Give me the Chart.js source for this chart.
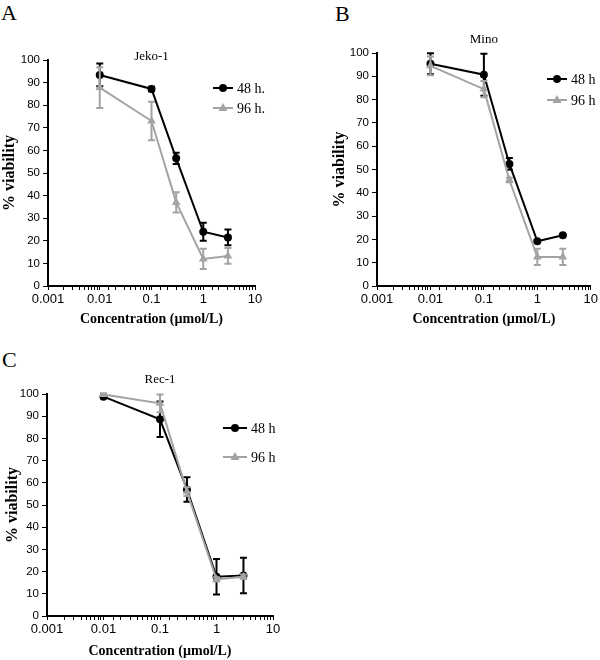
<!DOCTYPE html>
<html>
<head>
<meta charset="utf-8">
<script src="https://cdn.jsdelivr.net/npm/chart.js@4.4.0/dist/chart.umd.min.js"></script>
<style>
body{margin:0;background:#fff;width:600px;height:660px;position:relative;overflow:hidden}
canvas{position:absolute}
.lab{position:absolute;font-family:"Liberation Serif",serif;font-size:22px;line-height:24px;color:#000}
</style>
</head>
<body>
<div class="lab" style="left:1px;top:1px">A</div>
<div class="lab" style="left:335px;top:2px">B</div>
<div class="lab" style="left:2px;top:348px">C</div>
<canvas id="chartA" width="300" height="330" style="left:0;top:0"></canvas>
<canvas id="chartB" width="300" height="330" style="left:300px;top:0"></canvas>
<canvas id="chartC" width="300" height="340" style="left:0;top:320px"></canvas>
<script>
// concentrations (µmol/L)
var conc = [0.01, 0.1, 0.3, 1, 3];
var xTickLabels = [0.001, 0.01, 0.1, 1, 10];

// Jeko-1
var jeko48 = [93.4, 87.2, 56.5, 24, 21.5];
var jeko48Err = [5, 1, 2.5, 4, 3.5];
var jeko96 = [87.8, 73, 37, 12, 13.3];
var jeko96Err = [9, 8.5, 4.5, 4.5, 3.5];

// Mino
var mino48 = [95.4, 90.7, 52.4, 19.2, 21.8];
var mino48Err = [4.5, 9, 2.5, 0.5, 0.5];
var mino96 = [94.5, 84.5, 45.5, 12.5, 12.5];
var mino96Err = [4, 3.5, 1, 3.5, 3.5];

// Rec-1
var rec48 = [98.8, 88.6, 57, 17.7, 18.2];
var rec48Err = [0.5, 8, 5.5, 8, 8];
var rec96 = [99.8, 95.8, 56, 16.5, 17.7];
var rec96Err = [0.5, 4, 2, 1, 1];

var GREY = '#a3a3a3';
var SANS = '"Liberation Sans", Arial, sans-serif';
var SERIF = '"Liberation Serif", "Times New Roman", serif';

var errorBars = {
	id: 'errorBars',
	afterDatasetDraw: function(chart, args) {
		var ds = chart.data.datasets[args.index];
		if (!ds.err) return;
		var ctx = chart.ctx, x = chart.scales.x, y = chart.scales.y;
		ctx.save();
		ctx.strokeStyle = ds.borderColor;
		ctx.lineWidth = 2;
		ds.data.forEach(function(pt, i) {
			var px = x.getPixelForValue(pt.x);
			var top = y.getPixelForValue(pt.y + ds.err[i]);
			var bot = y.getPixelForValue(pt.y - ds.err[i]);
			ctx.beginPath();
			ctx.moveTo(px, top); ctx.lineTo(px, bot);
			ctx.moveTo(px - 3.5, top); ctx.lineTo(px + 3.5, top);
			ctx.moveTo(px - 3.5, bot); ctx.lineTo(px + 3.5, bot);
			ctx.stroke();
		});
		ctx.restore();
	}
};

function drawMarker(ctx, style, x, y, color) {
	ctx.fillStyle = color;
	ctx.beginPath();
	if (style === 'triangle') {
		ctx.moveTo(x, y - 5);
		ctx.lineTo(x + 4.5, y + 3);
		ctx.lineTo(x - 4.5, y + 3);
		ctx.closePath();
	} else {
		ctx.arc(x, y, 4, 0, Math.PI * 2);
	}
	ctx.fill();
}

function makeChart(id, p) {
	var cv = document.getElementById(id);
	var a = p.area;

	var overlay = {
		id: 'overlay',
		afterDraw: function(chart) {
			var ctx = chart.ctx, ca = chart.chartArea;
			ctx.save();
			ctx.fillStyle = '#000';
			ctx.textAlign = 'center';
			ctx.textBaseline = 'middle';
			ctx.font = '13px ' + SERIF;
			ctx.fillText(p.title, (ca.left + ca.right) / 2, ca.top + p.titleDy);
			chart.data.datasets.forEach(function(ds, i) {
				var lx = p.legend.x, ly = p.legend.y + i * p.legend.gap;
				ctx.strokeStyle = ds.borderColor;
				ctx.lineWidth = 2;
				ctx.beginPath();
				ctx.moveTo(lx, ly); ctx.lineTo(lx + p.legend.len, ly);
				ctx.stroke();
				drawMarker(ctx, ds.pointStyle, lx + p.legend.len / 2, ly, ds.borderColor);
				ctx.fillStyle = '#000';
				ctx.textAlign = 'left';
				ctx.font = '14px ' + SERIF;
				ctx.fillText(ds.label, lx + p.legend.len + 4, ly + 1);
			});
			ctx.restore();
		}
	};

	return new Chart(cv, {
		type: 'line',
		data: {
			datasets: [
				{
					label: p.names[0],
					data: conc.map(function(c, i) { return {x: c, y: p.y48[i]}; }),
					err: p.e48,
					borderColor: '#000',
					backgroundColor: '#000',
					pointStyle: 'circle',
					pointRadius: 4,
					pointBorderWidth: 0,
					borderWidth: 2,
					order: 1
				},
				{
					label: p.names[1],
					data: conc.map(function(c, i) { return {x: c, y: p.y96[i]}; }),
					err: p.e96,
					borderColor: GREY,
					backgroundColor: GREY,
					pointStyle: 'triangle',
					pointRadius: 5,
					pointBorderWidth: 0,
					borderWidth: 2,
					order: 0
				}
			]
		},
		options: {
			responsive: false,
			animation: false,
			layout: {padding: {top: a.top, right: cv.width - a.right, left: 0, bottom: 0}},
			plugins: {legend: {display: false}, tooltip: {enabled: false}},
			scales: {
				x: {
					type: 'logarithmic',
					min: 0.001,
					max: 10,
					border: {color: '#000', width: 2},
					grid: {drawOnChartArea: false, color: '#000', tickLength: 4, lineWidth: 1},
					ticks: {
						autoSkip: false,
						maxRotation: 0,
						color: '#000',
						padding: 2,
						font: {family: SANS, size: 13},
						callback: function(v) {
							for (var k = 0; k < xTickLabels.length; k++) {
								if (Math.abs(v - xTickLabels[k]) < xTickLabels[k] * 1e-6) return String(xTickLabels[k]);
							}
							return '';
						}
					},
					title: {
						display: true,
						text: 'Concentration (µmol/L)',
						color: '#000',
						font: {family: SERIF, size: 14, weight: 'bold'},
						padding: {top: 0, bottom: p.xTitlePad}
					},
					afterFit: function(s) { s.height = cv.height - a.bottom; }
				},
				y: {
					min: 0,
					max: 100,
					border: {color: '#000', width: 2},
					grid: {drawOnChartArea: false, color: '#000', tickLength: 5, lineWidth: 1},
					ticks: {stepSize: 10, color: '#000', padding: 3, font: {family: SANS, size: 11.5}},
					title: {
						display: true,
						text: '% viability',
						color: '#000',
						font: {family: SERIF, size: 16, weight: 'bold'},
						padding: {top: p.yTitlePad, bottom: 0}
					},
					afterFit: function(s) { s.width = a.left; }
				}
			}
		},
		plugins: [errorBars, overlay]
	});
}

makeChart('chartA', {
	title: 'Jeko-1', titleDy: -3,
	names: ['48 h.', '96 h.'],
	y48: jeko48, e48: jeko48Err, y96: jeko96, e96: jeko96Err,
	area: {left: 48, top: 60, right: 255, bottom: 286},
	legend: {x: 213, y: 88, gap: 20, len: 20},
	yTitlePad: 0, xTitlePad: 2
});

makeChart('chartB', {
	title: 'Mino', titleDy: -13,
	names: ['48 h', '96 h'],
	y48: mino48, e48: mino48Err, y96: mino96, e96: mino96Err,
	area: {left: 77, top: 53, right: 293, bottom: 286},
	legend: {x: 247, y: 79, gap: 21, len: 20},
	yTitlePad: 30, xTitlePad: 2
});

makeChart('chartC', {
	title: 'Rec-1', titleDy: -14,
	names: ['48 h', '96 h'],
	y48: rec48, e48: rec48Err, y96: rec96, e96: rec96Err,
	area: {left: 47, top: 74, right: 273, bottom: 296},
	legend: {x: 223, y: 108, gap: 29, len: 24},
	yTitlePad: 3.5, xTitlePad: 0
});
</script>
</body>
</html>
